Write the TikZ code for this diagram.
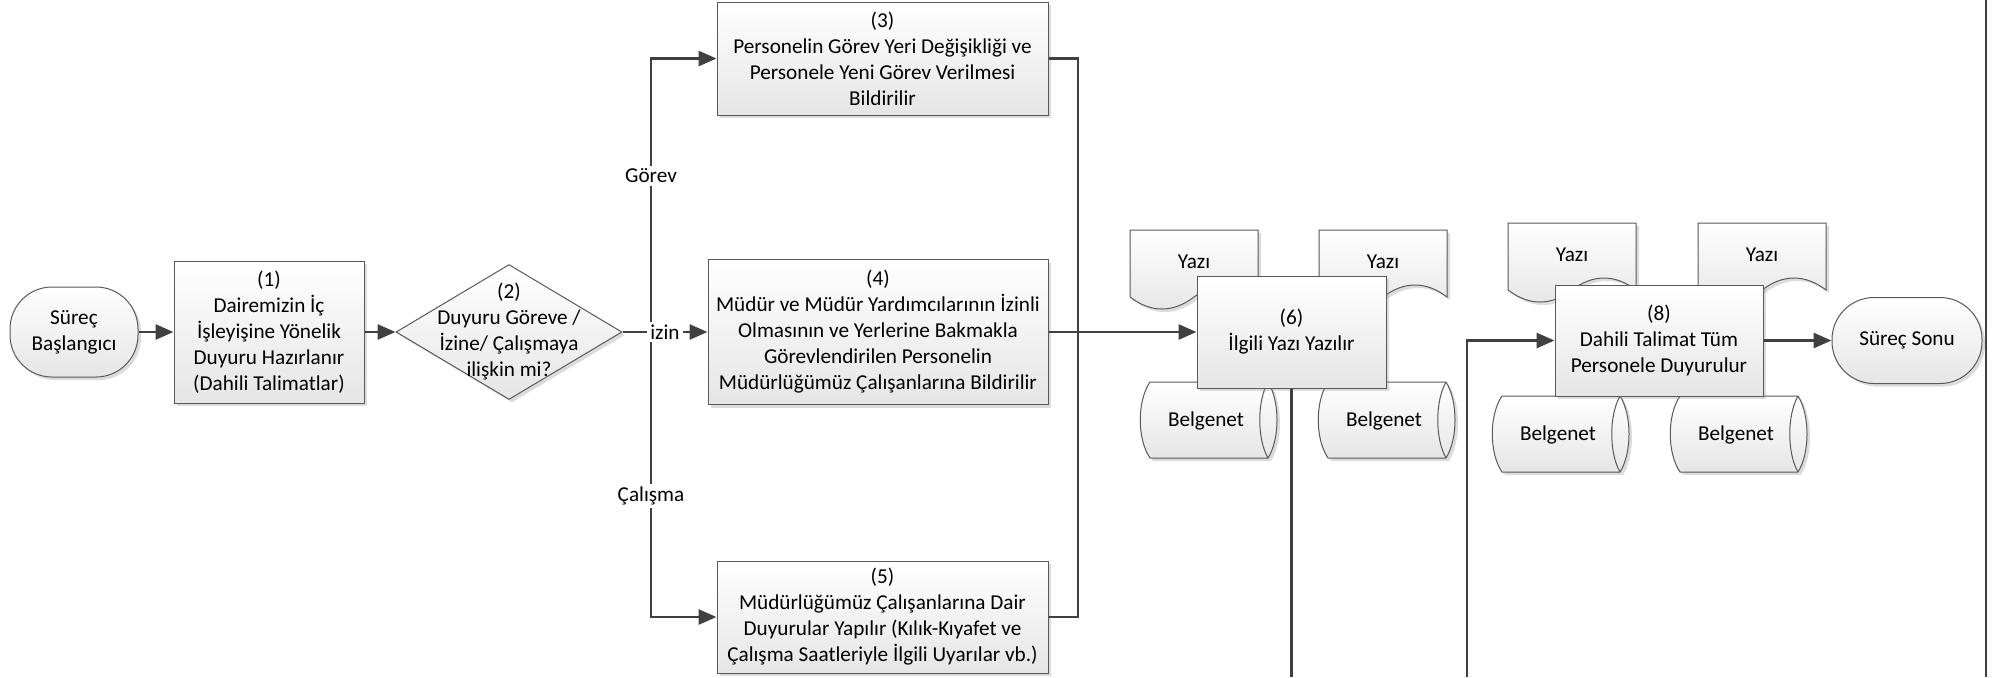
\documentclass[tikz,border=0pt]{standalone}
\usepackage{fontspec}
\setmainfont{Carlito}
\usetikzlibrary{arrows.meta, shapes.geometric, shadows}
\tikzset{
  % Flowchart shapes
  fc-base/.style={draw=black!65, line width=0.5pt, top color=white, bottom color=black!10,
    drop shadow={shadow xshift=1.5pt, shadow yshift=-1.5pt, opacity=0.3, fill=black!45}},
  fc-text/.style={font=\fontsize{10.6}{13}\selectfont, align=center, inner sep=1pt},
  fc-terminal/.style={fc-base, fc-text, rectangle, rounded corners=21pt},
  fc-process/.style={fc-base, fc-text, rectangle},
  fc-decision/.style={fc-base, diamond, inner sep=0pt},
  fc-label/.style={fc-text, fill=white, inner sep=1.5pt},
  % Connectors
  fc-line/.style={draw=black!75, line width=1.4pt},
  fc-flow/.style={fc-line, -{Triangle[length=9pt, width=7.5pt]}},
  % Documents and storage
  yazi/.pic={
    \draw[fc-base] (0,0) -- (128,0) -- (128,67) .. controls (107,51) and (85,51) .. (64,67)
      .. controls (43,83) and (21,83) .. (0,67) -- cycle;
    \node[fc-text] (-t) at (64,32) {Yazı};
  },
  belgenet/.pic={
    \draw[fc-base] (10,0) -- (128,0) .. controls (140,19) and (140,57) .. (128,76) -- (10,76)
      .. controls (-3,57) and (-3,19) .. (10,0) -- cycle;
    \draw[draw=black!65, line width=0.5pt] (128,0) .. controls (117,19) and (117,57) .. (128,76);
    \node[fc-text] (-t) at (66,39) {Belgenet};
  }
}
\begin{document}
\begin{tikzpicture}[x=0.5pt, y=-0.5pt]
    \useasboundingbox (0,0) rectangle (1997,677);
    % --- Start, preparation and decision ---
    \node[fc-terminal, minimum width=64pt, minimum height=45pt] (start) at (74,332) {Süreç\\Başlangıcı};
    \node[fc-process, minimum width=95pt, minimum height=71pt] (b1) at (269,332)
        {(1)\\Dairemizin İç\\İşleyişine Yönelik\\Duyuru Hazırlanır\\(Dahili Talimatlar)};
    \node[fc-decision, minimum width=113pt, minimum height=67.5pt,
        label={[fc-text]center:{(2)\\Duyuru Göreve /\\İzine/ Çalışmaya\\ilişkin mi?}}] (b2) at (509,332) {};

    % --- Branches ---
    \node[fc-process, minimum width=165.5pt, minimum height=56.5pt] (b3) at (882.5,58.5)
        {(3)\\Personelin Görev Yeri Değişikliği ve\\Personele Yeni Görev Verilmesi\\Bildirilir};
    \node[fc-process, minimum width=170pt, minimum height=72.5pt] (b4) at (878,332)
        {(4)\\Müdür ve Müdür Yardımcılarının İzinli\\Olmasının ve Yerlerine Bakmakla\\Görevlendirilen Personelin\\Müdürlüğümüz Çalışanlarına Bildirilir};
    \node[fc-process, minimum width=165.5pt, minimum height=56pt] (b5) at (882.5,617)
        {(5)\\Müdürlüğümüz Çalışanlarına Dair\\Duyurular Yapılır (Kılık-Kıyafet ve\\Çalışma Saatleriyle İlgili Uyarılar vb.)};

    % --- Writing step with its documents ---
    \pic (d1) at (1130,230) {yazi};
    \pic (d2) at (1319,230) {yazi};
    \pic (s1) at (1140,382) {belgenet};
    \pic (s2) at (1318,382) {belgenet};
    \node[fc-process, minimum width=94.5pt, minimum height=56pt] (b6) at (1291.5,332) {(6)\\İlgili Yazı Yazılır};

    % --- Announcement step ---
    \pic (d3) at (1508,223) {yazi};
    \pic (d4) at (1698,223) {yazi};
    \pic (s3) at (1492,396) {belgenet};
    \pic (s4) at (1670,396) {belgenet};
    \node[fc-process, minimum width=104pt, minimum height=55.5pt] (b8) at (1659,340.5) {(8)\\Dahili Talimat Tüm\\Personele Duyurulur};
    \node[fc-terminal, minimum width=75pt, minimum height=43pt] (end) at (1907,340.5) {Süreç Sonu};

    % --- Connectors ---
    \coordinate (split) at (651,332);
    \coordinate (merge) at (1078,332);
    \coordinate (out6) at (1291.5,677);
    \coordinate (in8) at (1467,677);
    \coordinate (edgeTop) at (1986,0);
    \coordinate (edgeBot) at (1986,677);
    \draw[fc-flow] (start) -- (b1);
    \draw[fc-flow] (b1) -- (b2);
    \draw[fc-flow] (b2.east) -- (b4.west);
    \draw[fc-flow] (split) |- (b3.west);
    \draw[fc-flow] (split) |- (b5.west);
    \draw[fc-line] (b3.east) -| (merge);
    \draw[fc-line] (b5.east) -| (merge);
    \draw[fc-flow] (b4.east) -- (b6.west);
    \draw[fc-line] (b6.south) -- (out6);
    \draw[fc-flow] (in8) |- (b8.west);
    \draw[fc-flow] (b8) -- (end);
    \draw[fc-line] (edgeTop) -- (edgeBot);
    \node[fc-label] (lGorev) at (651,176) {Görev};
    \node[fc-label] (lIzin) at (665,332) {izin};
    \node[fc-label] (lCalisma) at (651,496) {Çalışma};
\end{tikzpicture}
\end{document}
